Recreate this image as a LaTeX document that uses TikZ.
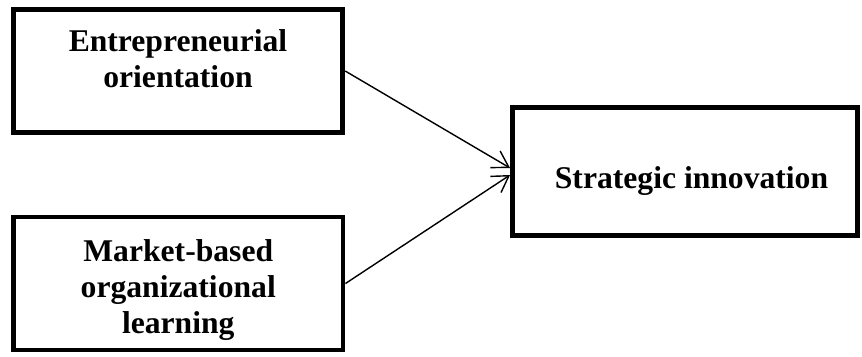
\documentclass[tikz,border=0pt]{standalone}
\usepackage{fontspec}
\setmainfont{Liberation Serif}
\usetikzlibrary{positioning,arrows.meta}

\begin{document}
\begin{tikzpicture}[>={Straight Barb[length=9pt,width=11pt]},
    box/.style={draw,line width=2.8pt,inner sep=0pt},
    lbl/.style={inner sep=0pt,align=center,font=\bfseries\fontsize{18}{20.5}\selectfont},
    link/.style={->,line width=0.8pt}]
  \useasboundingbox (0,0) rectangle (17.24,-7.12);
  \node[box,minimum width=6.59cm,minimum height=2.45cm] (eo) at (3.56,-1.42) {};
  \node[box,minimum width=6.59cm,minimum height=2.66cm] (mbol) at (3.565,-5.67) {};
  \node[box,minimum width=6.9cm,minimum height=2.56cm] (si) at (13.7,-3.43) {};
  \node[lbl,below=0.44cm of eo.north] (eotext) {Entrepreneurial\\orientation};
  \node[lbl,below=0.49cm of mbol.north] (mboltext) {Market-based\\organizational\\learning};
  \node[lbl,below=1.22cm of si.north,xshift=0.13cm] (sitext) {Strategic innovation};
  \draw[link] (eo.east) -- ([yshift=0.07cm]si.west);
  \draw[link] (mbol.east) -- ([yshift=-0.07cm]si.west);
\end{tikzpicture}
\end{document}
